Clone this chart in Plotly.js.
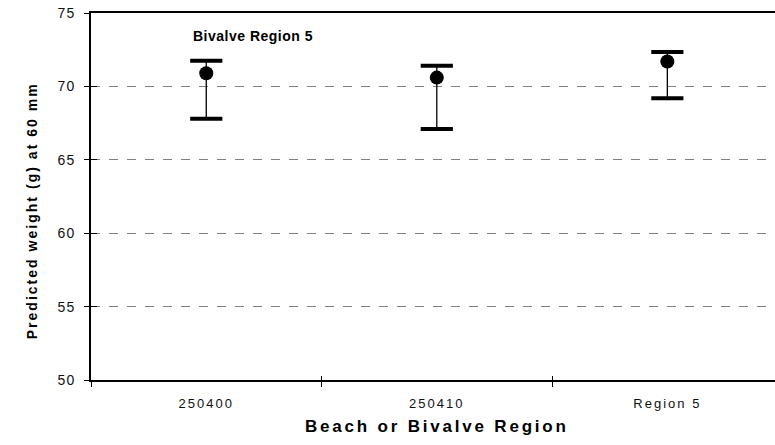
<!DOCTYPE html>
<html>
<head>
<meta charset="utf-8">
<script src="https://cdn.plot.ly/plotly-3.0.1.min.js"></script>
<style>
html, body { margin: 0; padding: 0; overflow: hidden; background: #fff; }
#chart { width: 775px; height: 445px; }
.xtick text { letter-spacing: 2px; }
.ytick text { letter-spacing: 1px; }
</style>
</head>
<body>
<div id="chart"></div>
<script>
const categories = ["250400", "250410", "Region 5"];
const means = [70.9, 70.6, 71.7];
const upper = [71.75, 71.4, 72.35];
const lower = [67.8, 67.1, 69.2];
const yTickVals = [50, 55, 60, 65, 70, 75];
const chartTitle = "Bivalve Region 5";
const xTitle = "Beach or Bivalve Region";
const yTitle = "Predicted weight (g) at 60 mm";

const FONT = "Liberation Sans, Arial, sans-serif";

const errPlus = means.map((m, i) => upper[i] - m);
const errMinus = means.map((m, i) => m - lower[i]);

function spaced(txt, px) {
  return '<span style="letter-spacing:' + px + 'px"><b>' + txt + '</b></span>';
}

const traces = [
  {
    type: "scatter", mode: "markers", x: categories, y: means,
    marker: { symbol: "circle", size: 14, color: "#000" },
    error_y: { type: "data", symmetric: false, array: errPlus, arrayminus: errMinus,
               width: 0, thickness: 1.3, color: "#000" },
    hoverinfo: "skip", showlegend: false
  },
  {
    type: "scatter", mode: "markers", x: categories, y: upper,
    marker: { symbol: "line-ew", size: 23, line: { width: 4, color: "#000" } },
    hoverinfo: "skip", showlegend: false
  },
  {
    type: "scatter", mode: "markers", x: categories, y: lower,
    marker: { symbol: "line-ew", size: 23, line: { width: 4, color: "#000" } },
    hoverinfo: "skip", showlegend: false
  },
  {
    // invisible trace binding the overlay axes (inner halves of tick marks)
    type: "scatter", mode: "markers", x: categories, y: means,
    xaxis: "x2", yaxis: "y2",
    marker: { size: 1, opacity: 0 }, hoverinfo: "skip", showlegend: false
  }
];

const xCommon = {
  type: "category", categoryorder: "array", categoryarray: categories,
  range: [-0.5, 2.467], tickson: "boundaries", showgrid: false, zeroline: false
};
const yCommon = { range: [50, 75], tickvals: yTickVals, zeroline: false };

const layout = {
  width: 775, height: 445,
  margin: { l: 91, r: 0, t: 13, b: 65, pad: 0 },
  paper_bgcolor: "#fff", plot_bgcolor: "#fff",
  font: { family: FONT, color: "#111", size: 12 },
  showlegend: false,
  xaxis: Object.assign({}, xCommon, {
    showline: true, linecolor: "#000", linewidth: 2, mirror: true,
    ticks: "outside", ticklen: 5, tickcolor: "#000", tickwidth: 1,
    ticklabelstandoff: 10,
    tickfont: { family: FONT, size: 13, color: "#111" }
  }),
  xaxis2: Object.assign({}, xCommon, {
    overlaying: "x", anchor: "y", side: "bottom",
    showline: false, ticks: "inside", ticklen: 4, tickcolor: "#000", tickwidth: 1,
    showticklabels: false
  }),
  yaxis: Object.assign({}, yCommon, {
    showline: true, linecolor: "#000", linewidth: 2,
    ticks: "outside", ticklen: 5, tickcolor: "#000", tickwidth: 1,
    ticklabelstandoff: 6,
    showgrid: true, gridcolor: "#808080", gridwidth: 1, griddash: "dash",
    tickfont: { family: FONT, size: 14, color: "#111" }
  }),
  yaxis2: Object.assign({}, yCommon, {
    overlaying: "y", anchor: "x", side: "left",
    showline: false, showgrid: false,
    ticks: "inside", ticklen: 6, tickcolor: "#000", tickwidth: 1,
    showticklabels: false
  }),
  annotations: [
    { text: spaced(chartTitle, 0.5), xref: "paper", yref: "paper",
      x: (191 - 91) / 684, y: (380 - 36) / 367, xanchor: "left", yanchor: "middle",
      showarrow: false, font: { family: FONT, size: 14, color: "#000" } },
    { text: spaced(xTitle, 2.8), xref: "x", yref: "paper",
      x: 1, y: -(426 - 380) / 367, xanchor: "center", yanchor: "middle",
      showarrow: false, font: { family: FONT, size: 17, color: "#000" } },
    { text: "<b>" + yTitle + "</b>", xref: "paper", yref: "paper",
      x: (32 - 91) / 684, y: (380 - 212) / 367, xanchor: "center", yanchor: "middle",
      textangle: -90, showarrow: false, font: { family: FONT, size: 14, color: "#000" } }
  ]
};

Plotly.newPlot("chart", traces, layout, { staticPlot: true, displayModeBar: false }).then(() => {
  // widen the rotated y title's letter spacing (CSS letter-spacing is not honoured there)
  const g = document.querySelector('.annotation[data-index="2"] text');
  if (g) {
    g.setAttribute('textLength', '255');
    g.setAttribute('lengthAdjust', 'spacing');
  }
});
</script>
</body>
</html>
